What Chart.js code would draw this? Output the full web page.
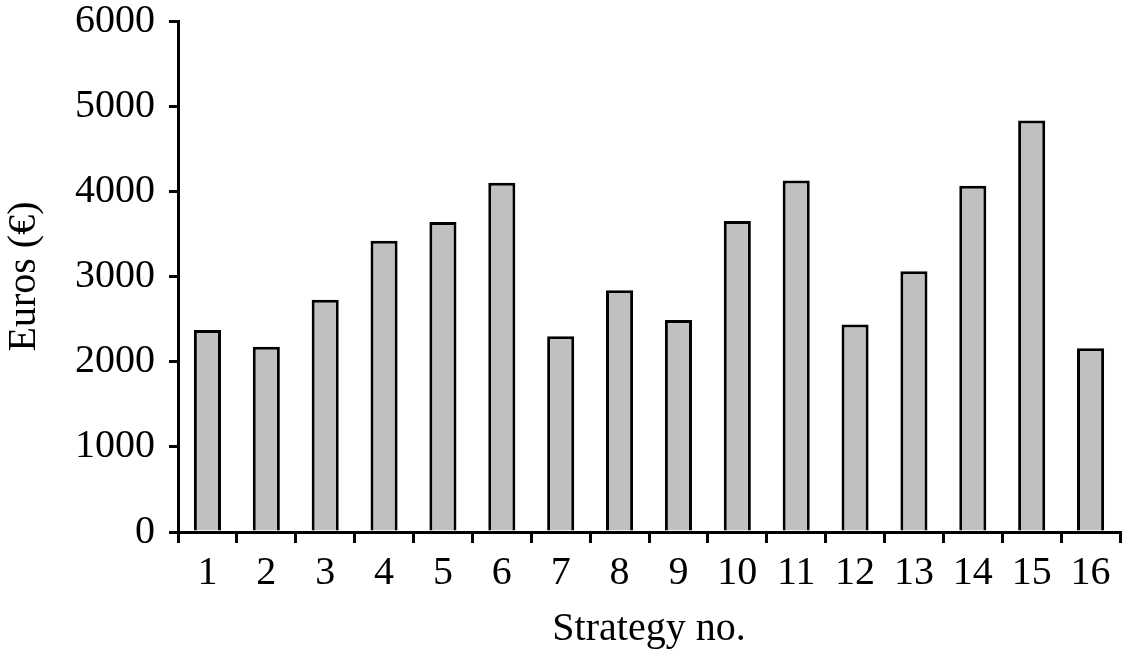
<!DOCTYPE html>
<html>
<head>
<meta charset="utf-8">
<script src="https://cdn.jsdelivr.net/npm/chart.js@4/dist/chart.umd.min.js"></script>
<style>
html,body{margin:0;padding:0;background:#fff;}
#wrap{width:1122px;height:653px;position:relative;}
</style>
</head>
<body>
<div id="wrap"><canvas id="c" width="1122" height="653"></canvas></div>
<script>
const categories = ['1','2','3','4','5','6','7','8','9','10','11','12','13','14','15','16'];
const costs = [2373, 2176, 2726, 3420, 3639, 4102, 2298, 2839, 2490, 3651, 4126, 2435, 3062, 4067, 4832, 2157];
const yTicks = [0, 1000, 2000, 3000, 4000, 5000, 6000];
const xTitle = 'Strategy no.';
const yTitle = 'Euros (€)';

const FONT = '"Liberation Serif", "Times New Roman", serif';

new Chart(document.getElementById('c'), {
  type: 'bar',
  data: {
    labels: categories,
    datasets: [{
      data: costs,
      backgroundColor: '#c0c0c0',
      borderColor: '#000',
      borderWidth: 3,
      barPercentage: 0.46,
      categoryPercentage: 1.0
    }]
  },
  options: {
    responsive: false,
    animation: false,
    layout: { padding: { top: 21, right: 2, left: 0, bottom: 0 } },
    plugins: { legend: { display: false }, tooltip: { enabled: false } },
    scales: {
      x: {
        offset: true,
        grid: { offset: true, drawOnChartArea: false, drawTicks: true, tickLength: 11, color: '#000', lineWidth: 3 },
        border: { display: true, color: '#000', width: 3 },
        ticks: { color: '#000', font: { family: FONT, size: 40 }, padding: 6, maxRotation: 0, autoSkip: false },
        title: { display: true, text: xTitle, color: '#000', font: { family: FONT, size: 40 }, padding: { top: 0, bottom: 0 } },
        afterFit: (s) => { s.height = 121; s.paddingLeft = 0; s.paddingRight = 0; }
      },
      y: {
        min: 0, max: 6000,
        afterBuildTicks: (s) => { s.ticks = yTicks.map(v => ({ value: v })); },
        grid: { drawOnChartArea: false, drawTicks: true, tickLength: 9, color: '#000', lineWidth: 3 },
        border: { display: true, color: '#000', width: 3 },
        ticks: { color: '#000', font: { family: FONT, size: 40 }, padding: 14, callback: (v) => String(v) },
        title: { display: true, text: yTitle, color: '#000', font: { family: FONT, size: 40 }, padding: { top: 0, bottom: 0 } },
        afterFit: (s) => { s.width = 178; s.paddingTop = 0; s.paddingBottom = 0; }
      }
    }
  }
});
</script>
</body>
</html>
